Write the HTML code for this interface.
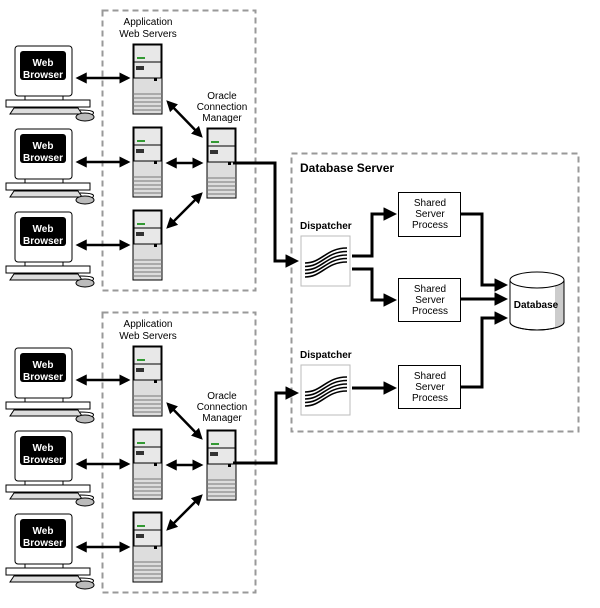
<!DOCTYPE html>
<html><head><style>
html,body{margin:0;padding:0;background:#fff;}
svg{display:block;font-family:"Liberation Sans",sans-serif;}
.l{font-size:10px;text-anchor:middle;}
.w{font-size:10px;font-weight:bold;fill:#fff;text-anchor:middle;}
</style></head><body>
<svg width="600" height="608" viewBox="0 0 600 608" xmlns="http://www.w3.org/2000/svg">
<defs>
<marker id="a" markerWidth="4.5" markerHeight="4.5" refX="3.5" refY="2.25" orient="auto-start-reverse" markerUnits="strokeWidth"><path d="M0,0 L4.5,2.25 L0,4.5 z" fill="#000"/></marker>
<g id="pc">
 <rect x="15" y="46" width="57" height="50" rx="3" fill="#fff" stroke="#000"/>
 <rect x="20" y="51" width="46" height="29" rx="3" fill="#000"/>
 <rect x="25" y="96" width="38" height="4" fill="#fff" stroke="#000"/>
 <rect x="6" y="100" width="84" height="7" fill="#fff" stroke="#000"/>
 <path d="M14,108 L78,108 L82,114 L10,114 z" fill="#ddd" stroke="#000"/>
 <path d="M80,110 Q98,110 92,115" fill="none" stroke="#000"/>
 <ellipse cx="85" cy="117" rx="9" ry="4" fill="#bbb" stroke="#000"/>
</g>
<g id="sv">
 <rect x="133" y="44" width="29" height="70" fill="#ddd" stroke="#000"/>
 <rect x="134" y="45" width="27" height="17" fill="#e8e8e8" stroke="#000"/>
 <rect x="134" y="62" width="27" height="16" fill="#e8e8e8" stroke="#000"/>
 <rect x="137" y="57" width="8" height="2" fill="#393"/>
 <rect x="136" y="66" width="8" height="4" fill="#333"/>
 <rect x="154" y="78" width="3" height="3" fill="#000"/>
 <path d="M133,94h29M133,98h29M133,102h29M133,106h29M133,110h29" stroke="#777" stroke-width="1"/>
</g>
<g id="grp">
 <rect x="102.5" y="10.5" width="153" height="280" fill="none" stroke="#999" stroke-width="2" stroke-dasharray="6,4"/>
 <use href="#pc"/><use href="#pc" y="83"/><use href="#pc" y="166"/>
 <use href="#sv"/><use href="#sv" y="83"/><use href="#sv" y="166"/>
 <use href="#sv" x="74" y="84"/>
 <g stroke="#000" stroke-width="2.5" fill="none" marker-start="url(#a)" marker-end="url(#a)">
  <path d="M78,78 L128,78"/><path d="M78,162 L128,162"/><path d="M78,245 L128,245"/>
  <path d="M168,102 L201,136"/><path d="M168,163 L201,163"/><path d="M168,227 L201,194"/>
 </g>
</g>
<g id="disp">
 <rect x="301" y="0" width="49" height="50" fill="#fff" stroke="#bbb"/>
 <g fill="none" stroke="#000" stroke-width="1.6">
  <path d="M305,27 C322,27 326,12 347,12"/><path d="M305,30.5 C322,30.5 326,15.5 347,15.5"/><path d="M305,34 C322,34 326,19 347,19"/><path d="M305,37.5 C322,37.5 326,22.5 347,22.5"/><path d="M305,41 C322,41 326,26 347,26"/>
 </g>
</g>
</defs>
<use href="#grp"/>
<use href="#grp" y="302"/>
<g font-size="10">
 <text x="148" y="25" class="l">Application</text><text x="148" y="37" class="l">Web Servers</text>
 <text x="222" y="99" class="l">Oracle</text><text x="222" y="110" class="l">Connection</text><text x="222" y="121" class="l">Manager</text>
 <text x="148" y="327" class="l">Application</text><text x="148" y="339" class="l">Web Servers</text>
 <text x="222" y="399" class="l">Oracle</text><text x="222" y="410" class="l">Connection</text><text x="222" y="421" class="l">Manager</text>
</g>
<g>
 <text x="43" y="66" class="w">Web</text><text x="43" y="78" class="w">Browser</text>
 <text x="43" y="149" class="w">Web</text><text x="43" y="161" class="w">Browser</text>
 <text x="43" y="232" class="w">Web</text><text x="43" y="244" class="w">Browser</text>
 <text x="43" y="368" class="w">Web</text><text x="43" y="380" class="w">Browser</text>
 <text x="43" y="451" class="w">Web</text><text x="43" y="463" class="w">Browser</text>
 <text x="43" y="534" class="w">Web</text><text x="43" y="546" class="w">Browser</text>
</g>
<rect x="291.5" y="153.5" width="287" height="278" fill="none" stroke="#999" stroke-width="2" stroke-dasharray="6,4"/>
<text x="300" y="172" font-size="12" font-weight="bold">Database Server</text>
<text x="300" y="229" font-size="10" font-weight="bold">Dispatcher</text>
<text x="300" y="358" font-size="10" font-weight="bold">Dispatcher</text>
<use href="#disp" y="236"/>
<use href="#disp" y="365"/>
<g fill="#fff" stroke="#000">
 <rect x="398.5" y="192.5" width="62" height="44"/>
 <rect x="398.5" y="278.5" width="62" height="43"/>
 <rect x="398.5" y="365.5" width="62" height="43"/>
</g>
<g font-size="10" class="l">
 <text x="430" y="206" class="l">Shared</text><text x="430" y="217" class="l">Server</text><text x="430" y="228" class="l">Process</text>
 <text x="430" y="292" class="l">Shared</text><text x="430" y="303" class="l">Server</text><text x="430" y="314" class="l">Process</text>
 <text x="430" y="379" class="l">Shared</text><text x="430" y="390" class="l">Server</text><text x="430" y="401" class="l">Process</text>
</g>
<path d="M510,280 L510,322 A27,8 0 0 0 564,322 L564,280" fill="#fff" stroke="#000"/>
<path d="M555,286 L564,282 L564,322 A27,8 0 0 1 555,328 z" fill="#ccc"/>
<path d="M510,280 L510,322 A27,8 0 0 0 564,322 L564,280" fill="none" stroke="#000"/>
<ellipse cx="537" cy="280" rx="27" ry="8" fill="#fff" stroke="#000"/>
<text x="536" y="308" font-size="10" font-weight="bold" text-anchor="middle">Database</text>
<g stroke="#000" stroke-width="3" fill="none" marker-end="url(#a)">
 <path d="M233,163 L275,163 L275,261 L296,261"/>
 <path d="M233,463 L276,463 L276,393 L296,393"/>
 <path d="M352,256 L372,256 L372,214 L394,214"/>
 <path d="M352,269 L372,269 L372,300 L394,300"/>
 <path d="M352,388 L394,388"/>
 <path d="M461,214 L482,214 L482,285 L505,285"/>
 <path d="M461,299 L505,299"/>
 <path d="M461,387 L482,387 L482,318 L505,318"/>
</g>
</svg>
</body></html>
